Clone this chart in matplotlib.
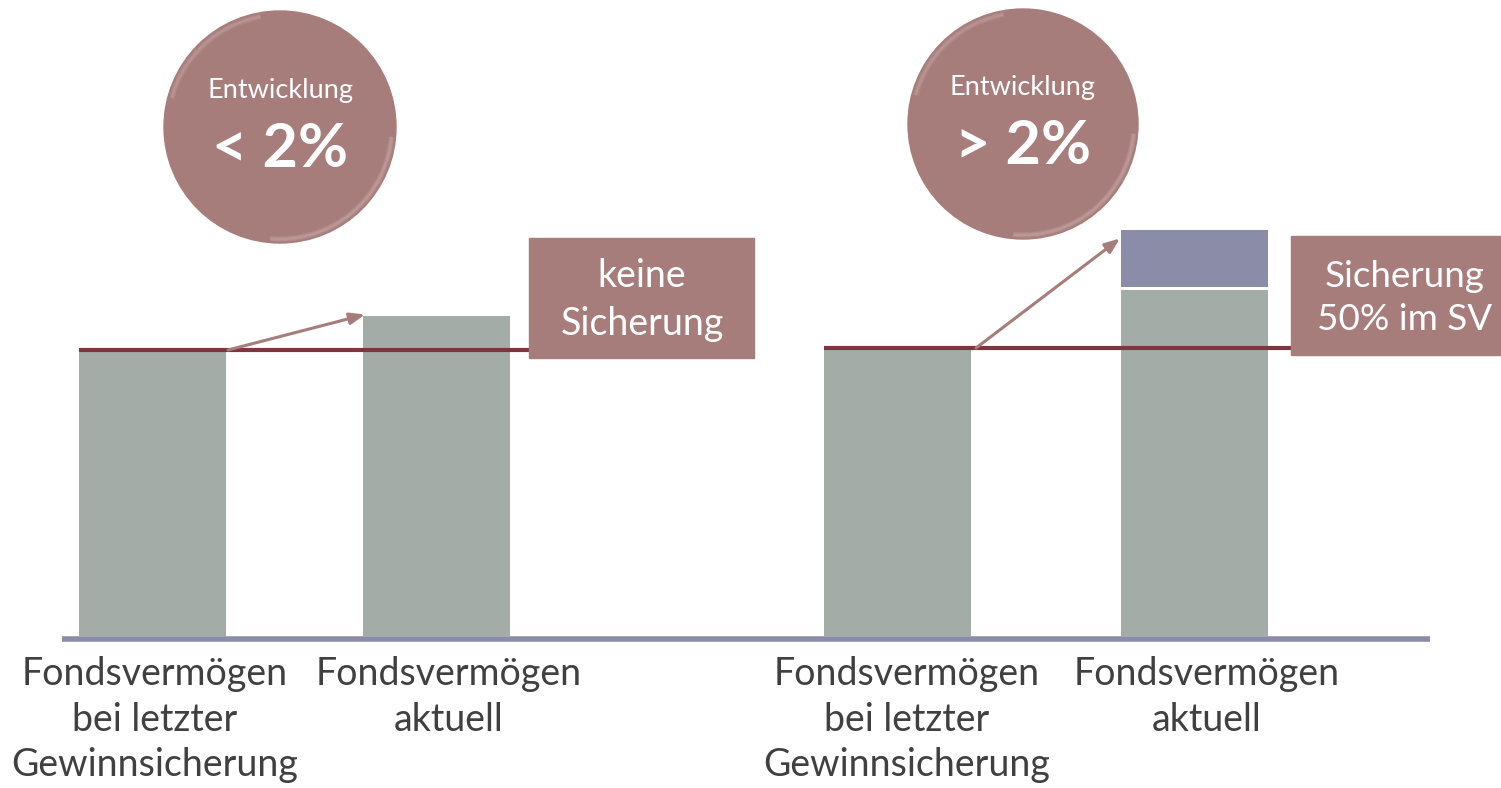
import matplotlib
matplotlib.use("Agg")
import matplotlib.pyplot as plt
from matplotlib.patches import Circle, Rectangle, Arc

plt.rcParams["font.family"] = ["Lato", "DejaVu Sans"]

# data (relative fund value, last securing = 100)
categories = ["Fondsvermögen\nbei letzter\nGewinnsicherung", "Fondsvermögen\naktuell",
              "Fondsvermögen\nbei letzter\nGewinnsicherung", "Fondsvermögen\naktuell"]
fund_values = [100, 112, 100, 121]
secured_part = [0, 0, 0, 20]
reference_level = [100, 100]
circle_small = ["Entwicklung", "Entwicklung"]
circle_big = ["< 2%", "> 2%"]
box_texts = ["keine\nSicherung", "Sicherung\n50% im SV"]

GREY = "#a3aca6"
ROSE = "#a67d7b"
DARK = "#7d3540"
SLATE = "#8a8ca8"

W, H = 1501, 788
fig = plt.figure(figsize=(W / 100, H / 100), dpi=100)

# main axes: x in pixels, y in value units, baseline at 636 px
px_per_unit = 2.86
base_px = 636
ax = fig.add_axes([0, 0, 1, 1])
ax.set_xlim(0, W)
ax.set_ylim(-(H - base_px) / px_per_unit, base_px / px_per_unit)
ax.axis("off")

bar_x = [152.5, 436.5, 897.5, 1194.5]
bar_w = 147
ax.bar(bar_x, fund_values, width=bar_w, color=GREY, zorder=2)
ax.bar(bar_x, secured_part, bottom=[v + 1 for v in fund_values], width=bar_w,
       color=SLATE, zorder=2)

# baseline
ax.plot([62, 1430], [-1, -1], color=SLATE, lw=4, solid_capstyle="butt", zorder=3)

# reference lines at last securing level
ax.plot([79, 530], [reference_level[0]] * 2, color=DARK, lw=3, zorder=4,
        solid_capstyle="butt")
ax.plot([824, 1292], [reference_level[1] + 0.7] * 2, color=DARK, lw=3, zorder=4,
        solid_capstyle="butt")

# arrows
ax.annotate("", xy=(365, fund_values[1] + 0.4), xytext=(228, reference_level[0]),
            arrowprops=dict(arrowstyle="-|>,head_length=0.9,head_width=0.35",
                            color=ROSE, lw=2.2, shrinkA=0, shrinkB=0), zorder=5)
ax.annotate("", xy=(1120, fund_values[3] + secured_part[3] - 2),
            xytext=(976, reference_level[1] + 0.7),
            arrowprops=dict(arrowstyle="-|>,head_length=0.9,head_width=0.35",
                            color=ROSE, lw=2.2, shrinkA=0, shrinkB=0), zorder=5)

# overlay in pixel coordinates for decoration
deco = fig.add_axes([0, 0, 1, 1], facecolor="none")
deco.set_xlim(0, W)
deco.set_ylim(H, 0)
deco.axis("off")

for (cx, cy, r), small, big in zip([(280, 127, 116), (1023, 124, 115)],
                                   circle_small, circle_big):
    deco.add_patch(Circle((cx, cy), r, color=ROSE, zorder=2))
    # soft glossy rim
    for k, a in enumerate([0.10, 0.16, 0.22, 0.16, 0.10]):
        d = 2 * r - 4 - 2 * k
        deco.add_patch(Arc((cx, cy), d, d, theta1=5, theta2=95,
                           color="#f0dada", lw=1.2, alpha=a, zorder=3))
        deco.add_patch(Arc((cx, cy), d, d, theta1=195, theta2=260,
                           color="#f0dada", lw=1.2, alpha=a * 0.8, zorder=3))
    deco.text(cx, cy - 37, small, color="white", fontsize=19.5, ha="center",
              va="center", zorder=4)
    deco.text(cx, cy + 22, big, color="white", fontsize=44, fontweight="bold",
              ha="center", va="center", zorder=4)

# boxes
deco.add_patch(Rectangle((529, 238), 225, 120, color=ROSE, zorder=2))
deco.text(642, 300, box_texts[0], color="white", fontsize=27, ha="center",
          va="center", linespacing=1.4, zorder=3)
deco.add_patch(Rectangle((1291, 236), 215, 119, color=ROSE, zorder=2))
deco.text(1405, 298, box_texts[1], color="white", fontsize=26.5, ha="center",
          va="center", linespacing=1.4, zorder=3)

# category labels
label_x = [155, 449, 907, 1207]
for lx, lab in zip(label_x, categories):
    deco.text(lx, 656, lab, color="#404040", fontsize=27, ha="center", va="top",
              linespacing=1.33)

fig.savefig("out.png", dpi=100)
